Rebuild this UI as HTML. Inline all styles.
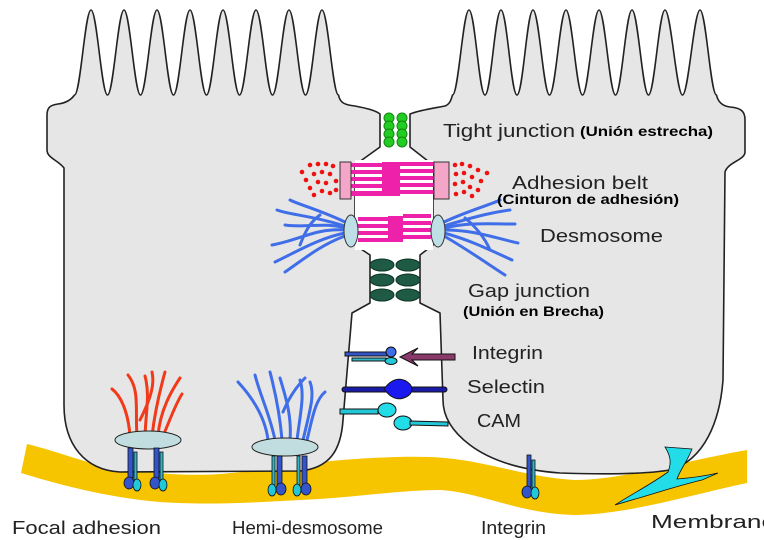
<!DOCTYPE html>
<html><head><meta charset="utf-8">
<style>
html,body{margin:0;padding:0;background:#fff;width:764px;height:540px;overflow:hidden}
svg{display:block}
text{font-family:"Liberation Sans",Arial,sans-serif}
.lb{font-size:18px;fill:#222}
.bd{font-size:14px;font-weight:bold;fill:#000}
</style></head><body>
<svg width="764" height="540" viewBox="0 0 764 540" xmlns="http://www.w3.org/2000/svg">
<path d="M27,444 C60,452 90,465 120,469 C160,474 190,476 220,474 C260,471 280,466 310,463 C360,458 410,455 445,458 C490,462 530,478 575,480 C620,480 680,462 747,450 L747,483 C690,495 630,514 575,515 C520,514 480,492 440,490 C400,490 350,498 300,500 C250,503 200,505 160,502 C110,498 60,485 21,473 Z" fill="#f7c400"/>
<g fill="#e6e6e6" stroke="#222" stroke-width="1.6" stroke-linejoin="round">
<path d="M47,150 L47,115 C47,106 52,105 58,104 C66,103 71,100 74.5,95
C80.5,95 85,10 91,10 C97,10 101.5,95 107.5,95
C113.5,95 118,10 124,10 C130,10 134.5,95 140.5,95
C146.5,95 151,10 157,10 C163,10 167.5,95 173.5,95
C179.5,95 184,10 190,10 C196,10 200.5,95 206.5,95
C212.5,95 217,10 223,10 C229,10 233.5,95 239.5,95
C245.5,95 250,10 256,10 C262,10 266.5,95 272.5,95
C278.5,95 283,10 289,10 C295,10 299.5,95 305.5,95
C311.5,95 316,10 322,10 C328,10 332.5,95 338.5,95
C340,103 345,105 355,106 C365,108 375,110 380,114 L380,147 L355,165 L355,245 L370,255 L370,303 L352,313 L343,420 C341,450 330,468 300,471 L120,472 C85,470 64,445 64,405 L64,168 C58,160 47,158 47,150 Z"/>
<path d="M410,114 C420,110 435,108 445,106 C450,104 451,100 452.5,95
C458.5,95 463,10 469,10 C475,10 479,95 485,95
C491,95 495,10 501,10 C507,10 511,95 517,95
C523,95 527,10 533,10 C539,10 543.5,95 549.5,95
C555.5,95 560,10 566,10 C572,10 576.5,95 582.5,95
C588.5,95 593,10 599,10 C605,10 609.5,95 615.5,95
C621.5,95 626,10 632,10 C638,10 642.5,95 648.5,95
C654.5,95 659,10 665,10 C671,10 676.5,95 682.5,95
C688.5,95 694,10 700,10 C706,10 710.5,95 716.5,95
C718,102 722,106 730,107 C742,108 745,112 745,120 L745,152 C745,160 728,162 725,172 L723,380 C720,420 705,460 670,470 C640,475 590,474 560,473 C520,470 490,460 470,445 C450,430 443,415 443,400 L440,313 L420,303 L420,255 L433,245 L433,165 L410,147 Z"/>
</g>
<g fill="#22cc22" stroke="#118811" stroke-width="1">
<circle cx="389" cy="118" r="5"/><circle cx="402" cy="118" r="5"/>
<circle cx="389" cy="126" r="5"/><circle cx="402" cy="126" r="5"/>
<circle cx="389" cy="134" r="5"/><circle cx="402" cy="134" r="5"/>
<circle cx="389" cy="142" r="5"/><circle cx="402" cy="142" r="5"/>
</g>
<rect x="355" y="160" width="78" height="90" fill="#fff"/>
<g fill="#ee22aa">
<rect x="382" y="162" width="18" height="34"/>
<rect x="351" y="163" width="31" height="4"/><rect x="351" y="170" width="31" height="4"/><rect x="351" y="177" width="31" height="4"/><rect x="351" y="184" width="31" height="4"/><rect x="351" y="191" width="31" height="5"/>
<rect x="400" y="162" width="34" height="4"/><rect x="400" y="169" width="34" height="4"/><rect x="400" y="176" width="34" height="4"/><rect x="400" y="183" width="34" height="4"/><rect x="400" y="190" width="34" height="4"/>
<rect x="388" y="216" width="15" height="26"/>
<rect x="358" y="217" width="30" height="4"/><rect x="358" y="224" width="30" height="4"/><rect x="358" y="231" width="30" height="4"/><rect x="358" y="238" width="30" height="4"/>
<rect x="403" y="214" width="28" height="4"/><rect x="403" y="221" width="28" height="4"/><rect x="403" y="228" width="28" height="4"/><rect x="403" y="235" width="28" height="4"/>
</g>
<rect x="340" y="162" width="11" height="37" fill="#f4a6c8" stroke="#333" stroke-width="1"/>
<rect x="434" y="162" width="15" height="37" fill="#f4a6c8" stroke="#333" stroke-width="1"/>
<g fill="#ee1111">
<circle cx="302" cy="172" r="2.3"/><circle cx="310" cy="165" r="2.3"/><circle cx="318" cy="164" r="2.3"/><circle cx="326" cy="164" r="2.3"/><circle cx="333" cy="166" r="2.3"/>
<circle cx="306" cy="180" r="2.3"/><circle cx="314" cy="174" r="2.3"/><circle cx="322" cy="172" r="2.3"/><circle cx="330" cy="174" r="2.3"/><circle cx="336" cy="181" r="2.3"/>
<circle cx="310" cy="188" r="2.3"/><circle cx="318" cy="182" r="2.3"/><circle cx="326" cy="183" r="2.3"/><circle cx="314" cy="195" r="2.3"/><circle cx="322" cy="191" r="2.3"/><circle cx="330" cy="193" r="2.3"/><circle cx="336" cy="190" r="2.3"/>
<circle cx="455" cy="165" r="2.3"/><circle cx="462" cy="164" r="2.3"/><circle cx="470" cy="166" r="2.3"/><circle cx="478" cy="170" r="2.3"/><circle cx="487" cy="173" r="2.3"/>
<circle cx="456" cy="174" r="2.3"/><circle cx="464" cy="173" r="2.3"/><circle cx="472" cy="177" r="2.3"/><circle cx="481" cy="181" r="2.3"/>
<circle cx="455" cy="184" r="2.3"/><circle cx="463" cy="182" r="2.3"/><circle cx="470" cy="187" r="2.3"/><circle cx="478" cy="190" r="2.3"/>
<circle cx="456" cy="194" r="2.3"/><circle cx="464" cy="192" r="2.3"/><circle cx="472" cy="196" r="2.3"/>
</g>
<g fill="none" stroke="#3f6ee8" stroke-width="3" stroke-linecap="round">
<path d="M345,222 C320,210 300,205 290,200"/>
<path d="M345,226 C310,215 290,215 277,210"/>
<path d="M345,230 C315,228 300,240 272,245"/>
<path d="M345,233 C320,238 300,250 275,262"/>
<path d="M345,236 C320,245 300,262 285,272"/>
<path d="M345,228 C325,222 305,228 285,225"/>
<path d="M300,245 C305,232 310,222 320,215"/>
<path d="M444,222 C470,210 490,205 500,200"/>
<path d="M444,226 C480,215 495,212 510,210"/>
<path d="M444,230 C475,230 495,238 518,243"/>
<path d="M444,233 C470,240 490,250 512,260"/>
<path d="M444,236 C465,248 485,262 505,275"/>
<path d="M444,228 C470,222 490,224 515,224"/>
<path d="M490,250 C485,238 475,226 465,218"/>
</g>
<ellipse cx="351" cy="231" rx="7" ry="16" fill="#bfdfe6" stroke="#333" stroke-width="1"/>
<ellipse cx="438" cy="231" rx="7" ry="16" fill="#bfdfe6" stroke="#333" stroke-width="1"/>
<g fill="#1f5a44" stroke="#0d3326" stroke-width="1">
<ellipse cx="382" cy="265" rx="12" ry="6"/><ellipse cx="408" cy="265" rx="12" ry="6"/>
<ellipse cx="382" cy="280" rx="12" ry="6"/><ellipse cx="408" cy="280" rx="12" ry="6"/>
<ellipse cx="382" cy="295" rx="12" ry="6"/><ellipse cx="408" cy="295" rx="12" ry="6"/>
</g>
<g stroke="#111" stroke-width="1">
<rect x="345" y="352" width="42" height="4" fill="#3355cc"/>
<rect x="352" y="358" width="34" height="3" fill="#2fb6c8"/>
<circle cx="391" cy="352" r="5" fill="#3f6ee8"/>
<ellipse cx="391" cy="361" rx="6" ry="3.5" fill="#22c7d8"/>
<path d="M412,354 L455,354 L455,360 L412,360 L418,366 L400,357 L418,348 Z" fill="#8a3a6a"/>
<rect x="342" y="387" width="105" height="5" rx="2.5" fill="#1a1aa8"/>
<path d="M384,389 C392,378 400,378 406,381 C414,386 414,393 406,397 C400,400 392,400 384,389 Z" fill="#1a1af0"/>
<path d="M340,409 L378,409 L378,414 L340,414 Z" fill="#22c7d8"/>
<ellipse cx="387" cy="410" rx="9" ry="7" fill="#22dde8"/>
<ellipse cx="403" cy="423" rx="9" ry="7" fill="#22dde8"/>
<path d="M410,421 L448,422 L448,426 L410,425 Z" fill="#22c7d8"/>
</g>
<g fill="none" stroke="#f03a1a" stroke-width="3" stroke-linecap="round">
<path d="M130,436 C128,410 120,395 112,389"/>
<path d="M137,436 C135,410 140,390 128,375"/>
<path d="M145,436 C146,410 150,395 145,376"/>
<path d="M152,436 C155,410 160,390 165,372"/>
<path d="M158,436 C160,410 172,390 180,378"/>
<path d="M163,436 C170,420 175,405 182,394"/>
<path d="M140,420 C150,400 155,385 152,372"/>
</g>
<ellipse cx="148" cy="440" rx="33" ry="9" fill="#c2dde0" stroke="#222" stroke-width="1"/>
<g fill="none" stroke="#3f6ee8" stroke-width="3" stroke-linecap="round">
<path d="M268,440 C265,415 250,395 238,382"/>
<path d="M275,440 C270,415 260,395 255,375"/>
<path d="M282,440 C280,415 276,395 270,372"/>
<path d="M290,440 C292,415 285,395 280,378"/>
<path d="M297,440 C300,415 305,395 300,380"/>
<path d="M303,440 C310,410 315,395 310,382"/>
<path d="M307,440 C312,420 315,400 325,392"/>
<path d="M283,412 C288,400 295,388 305,378"/>
</g>
<ellipse cx="285" cy="447" rx="33" ry="9" fill="#c2dde0" stroke="#222" stroke-width="1"/>
<g stroke="#111" stroke-width="0.8">
<rect x="128" y="448" width="5" height="30" fill="#3355cc"/><rect x="134" y="452" width="3" height="28" fill="#2fb6c8"/>
<ellipse cx="129" cy="483" rx="5" ry="6" fill="#3355cc"/><ellipse cx="137" cy="485" rx="4" ry="6" fill="#22c7d8"/>
<rect x="154" y="448" width="5" height="30" fill="#3355cc"/><rect x="160" y="452" width="3" height="28" fill="#2fb6c8"/>
<ellipse cx="155" cy="483" rx="5" ry="6" fill="#3355cc"/><ellipse cx="163" cy="485" rx="4" ry="6" fill="#22c7d8"/>
<rect x="272" y="456" width="3" height="30" fill="#2fb6c8"/><rect x="277" y="456" width="5" height="30" fill="#3355cc"/>
<ellipse cx="272" cy="490" rx="4" ry="6" fill="#22c7d8"/><ellipse cx="281" cy="489" rx="5" ry="6" fill="#3355cc"/>
<rect x="297" y="456" width="3" height="30" fill="#2fb6c8"/><rect x="302" y="456" width="5" height="30" fill="#3355cc"/>
<ellipse cx="297" cy="490" rx="4" ry="6" fill="#22c7d8"/><ellipse cx="306" cy="489" rx="5" ry="6" fill="#3355cc"/>
<rect x="527" y="455" width="4" height="32" fill="#3355cc"/><rect x="532" y="460" width="3" height="28" fill="#2fb6c8"/>
<ellipse cx="527" cy="492" rx="5" ry="6" fill="#3355cc"/><ellipse cx="535" cy="493" rx="4" ry="6" fill="#22c7d8"/>
</g>
<path d="M665,447 L692,449 C688,460 680,470 677,479 C690,478 705,476 718,473 L702,480 C680,485 650,495 615,505 C630,495 650,485 668,472 C672,462 670,455 665,447 Z" fill="#22dde8" stroke="#111" stroke-width="0.8"/>
<text class="lb" x="443" y="137" textLength="132" lengthAdjust="spacingAndGlyphs">Tight junction</text>
<text class="bd" x="580" y="136" textLength="133" lengthAdjust="spacingAndGlyphs">(Unión estrecha)</text>
<text class="lb" x="512" y="189" textLength="136" lengthAdjust="spacingAndGlyphs">Adhesion belt</text>
<text class="bd" x="497" y="204" textLength="182" lengthAdjust="spacingAndGlyphs">(Cinturon de adhesión)</text>
<text class="lb" x="540" y="242" textLength="123" lengthAdjust="spacingAndGlyphs">Desmosome</text>
<text class="lb" x="468" y="297" textLength="122" lengthAdjust="spacingAndGlyphs">Gap junction</text>
<text class="bd" x="463" y="316" textLength="141" lengthAdjust="spacingAndGlyphs">(Unión en Brecha)</text>
<text class="lb" x="472" y="359" textLength="71" lengthAdjust="spacingAndGlyphs">Integrin</text>
<text class="lb" x="467" y="393" textLength="78" lengthAdjust="spacingAndGlyphs">Selectin</text>
<text class="lb" x="477" y="427" textLength="44" lengthAdjust="spacingAndGlyphs">CAM</text>
<text class="lb" x="12" y="534" textLength="149" lengthAdjust="spacingAndGlyphs">Focal adhesion</text>
<text class="lb" x="232" y="534" textLength="151" lengthAdjust="spacingAndGlyphs">Hemi-desmosome</text>
<text class="lb" x="481" y="534" textLength="65" lengthAdjust="spacingAndGlyphs">Integrin</text>
<text class="lb" x="651" y="528" textLength="125" lengthAdjust="spacingAndGlyphs">Membrane</text>
</svg>
</body></html>
